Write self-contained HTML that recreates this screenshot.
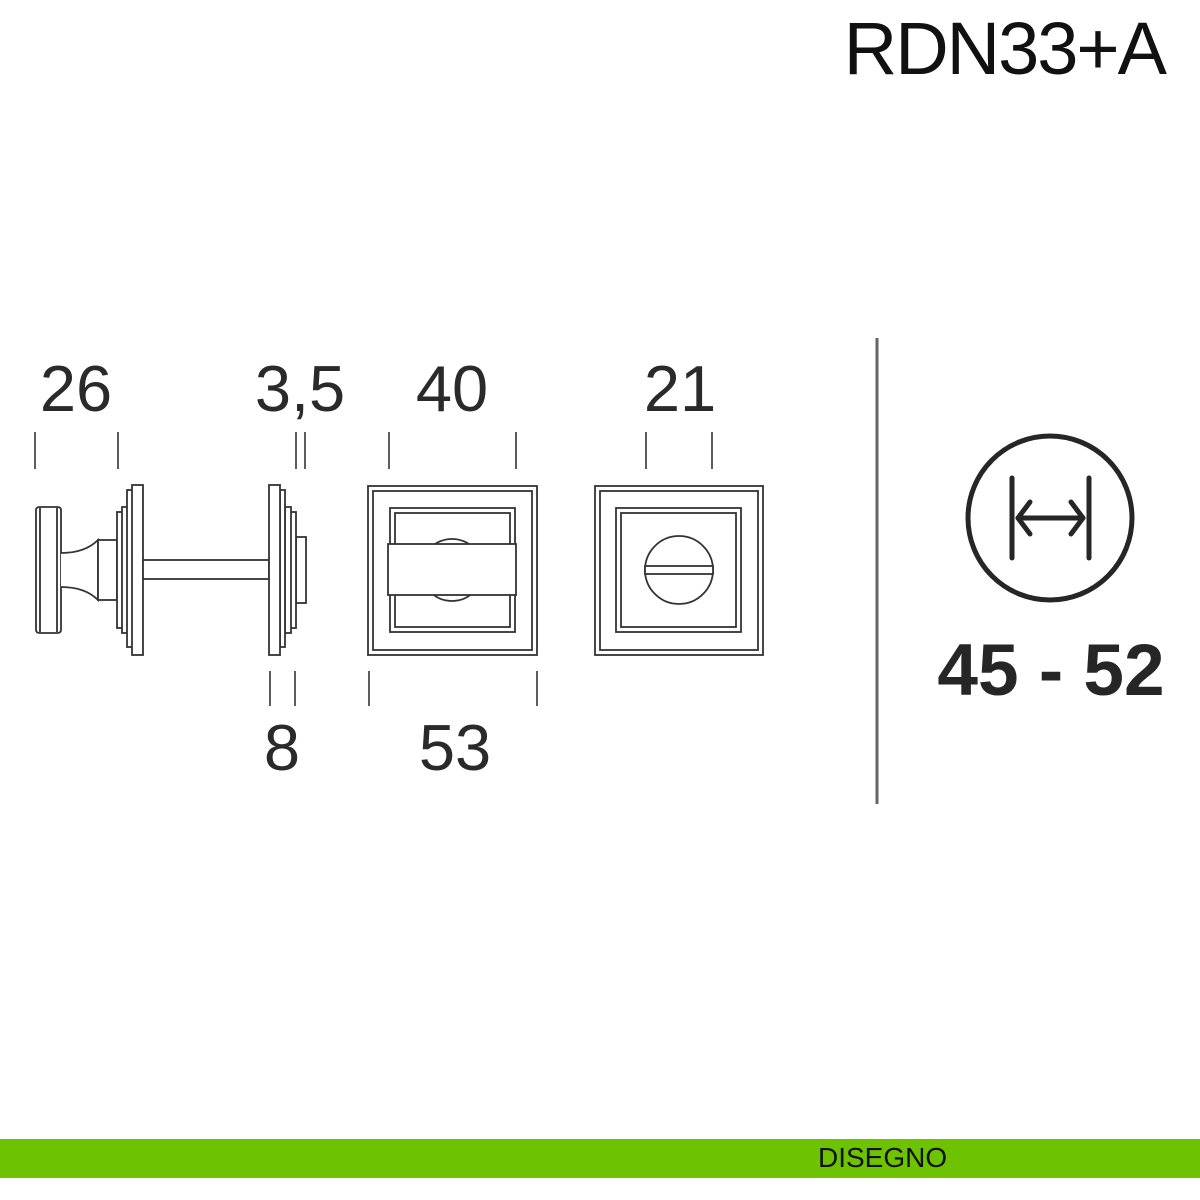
<!DOCTYPE html>
<html><head><style>
html,body{margin:0;padding:0;background:#fff;}
svg{display:block;}
text{font-family:"Liberation Sans",sans-serif;}
</style></head><body>
<svg width="1200" height="1200" viewBox="0 0 1200 1200" xmlns="http://www.w3.org/2000/svg">
<rect width="1200" height="1200" fill="#fff"/>
<text x="1165" y="74" font-size="74" text-anchor="end" fill="#111" letter-spacing="-2">RDN33+A</text>

<g font-size="65" fill="#2a2a2a" text-anchor="middle">
<text x="76" y="411">26</text>
<text x="300" y="411">3,5</text>
<text x="452" y="411">40</text>
<text x="680" y="411">21</text>
<text x="282" y="770">8</text>
<text x="455" y="770">53</text>
</g>

<g stroke="#333" stroke-width="1.6">
<line x1="35" y1="432" x2="35" y2="469"/><line x1="118" y1="432" x2="118" y2="469"/>
<line x1="296" y1="432" x2="296" y2="469"/><line x1="305" y1="432" x2="305" y2="469"/>
<line x1="389" y1="432" x2="389" y2="469"/><line x1="516" y1="432" x2="516" y2="469"/>
<line x1="646" y1="432" x2="646" y2="469"/><line x1="712" y1="432" x2="712" y2="469"/>
<line x1="270" y1="671" x2="270" y2="706"/><line x1="295" y1="671" x2="295" y2="706"/>
<line x1="369" y1="671" x2="369" y2="706"/><line x1="537" y1="671" x2="537" y2="706"/>
</g>

<g fill="#fff" stroke="#333" stroke-width="1.8">
<path d="M36 510 Q36 507 40 507 L57 507 Q61 507 61 510 L61 630 Q61 633 57 633 L40 633 Q36 633 36 630 Z"/>
<line x1="40" y1="508" x2="40" y2="632"/><line x1="57" y1="508" x2="57" y2="632"/>
<path d="M61 553 Q85 553 98 540 L98 600 Q85 587 61 587"/>
<rect x="98" y="540" width="19" height="60"/>
<rect x="117" y="512" width="10" height="116"/>
<rect x="122" y="507" width="10" height="126"/>
<rect x="127" y="490" width="6" height="157"/>
<rect x="132" y="485" width="11" height="170"/>
<rect x="143" y="560" width="126" height="19"/>
<rect x="296" y="537" width="10" height="66"/>
<rect x="290" y="512" width="6" height="116"/>
<rect x="285" y="507" width="6" height="126"/>
<rect x="280" y="490" width="5" height="157"/>
<rect x="269" y="485" width="11" height="170"/>

<rect x="368" y="486" width="169" height="169"/>
<rect x="373" y="491" width="159" height="159"/>
<rect x="390" y="508" width="125" height="124"/>
<rect x="395" y="513" width="115" height="114"/>
<circle cx="452" cy="570" r="31"/>
<rect x="388" y="544" width="128" height="51"/>

<rect x="595" y="486" width="168" height="169"/>
<rect x="600" y="491" width="158" height="159"/>
<rect x="616" y="508" width="125" height="124"/>
<rect x="621" y="513" width="115" height="114"/>
<circle cx="679" cy="570" r="34"/>
<rect x="645" y="566" width="68" height="8"/>
</g>

<line x1="877" y1="338" x2="877" y2="804" stroke="#666" stroke-width="3"/>

<g fill="none" stroke="#262626" stroke-width="5" stroke-linecap="round" stroke-linejoin="round">
<circle cx="1050" cy="518" r="82"/>
<line x1="1012" y1="478" x2="1012" y2="558"/>
<line x1="1089" y1="478" x2="1089" y2="558"/>
<line x1="1018" y1="518" x2="1083" y2="518"/>
<path d="M1030 502 L1018 518 L1030 534"/>
<path d="M1071 502 L1083 518 L1071 534"/>
</g>
<text x="1051" y="695" font-size="73" font-weight="bold" text-anchor="middle" fill="#262626">45 - 52</text>

<rect x="0" y="1139" width="1200" height="39" fill="#6dc300"/>
<text x="818" y="1167" font-size="28" fill="#111">DISEGNO</text>
</svg>
</body></html>
